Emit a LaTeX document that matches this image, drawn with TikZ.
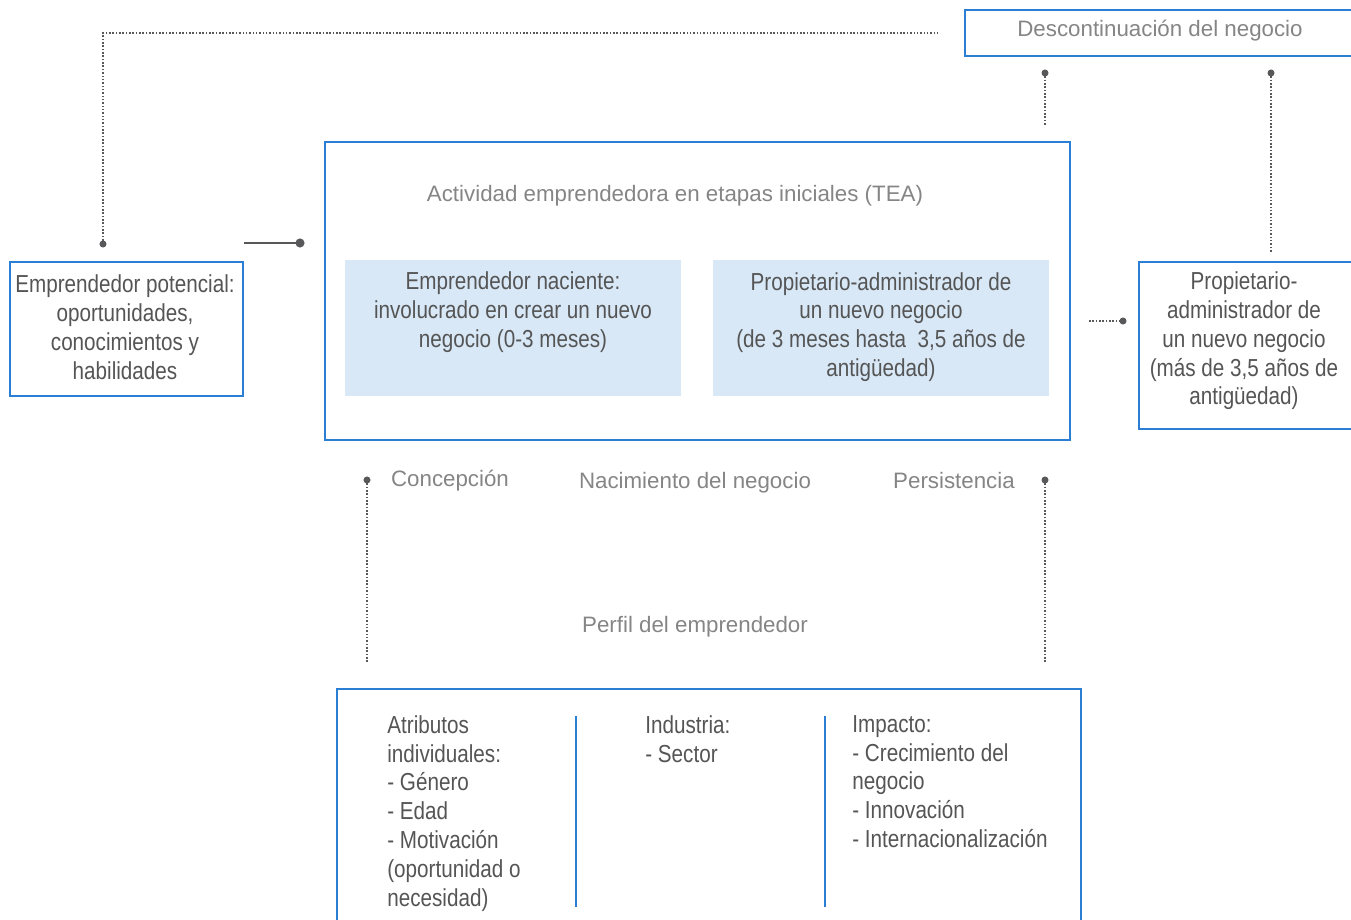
\documentclass[tikz,border=0pt]{standalone}
\usepackage{fontspec}
\setmainfont{Liberation Sans}[FakeStretch=0.84]
\newfontfamily\lightfont{Liberation Sans}
\usetikzlibrary{positioning}

\definecolor{gemblue}{HTML}{2A7FD4}
\definecolor{gemfill}{HTML}{D8E8F7}
\definecolor{gemtext}{HTML}{555555}
\definecolor{gemlight}{HTML}{858585}
\definecolor{gemdot}{HTML}{58585A}

\begin{document}
\begin{tikzpicture}[x=0.02cm, y=-0.02cm,
    box/.style={draw=gemblue, line width=0.9pt},
    txt/.style={text=gemtext, font=\fontsize{14}{16.4}\selectfont, align=center, inner sep=0pt},
    coltxt/.style={txt, align=left, anchor=north west},
    light/.style={text=gemlight, font=\lightfont\fontsize{12.7}{16}\selectfont, inner sep=0pt},
    link/.style={draw=gemdot, line width=0.9pt, densely dotted},
    dot/.style={fill=gemdot}]
    \useasboundingbox (0,0) rectangle (1351,919);

    % boxes
    \draw[box] (965,10) rectangle (1362,56);
    \node[light] (desc) at (1160,31) {Descontinuación del negocio};
    \draw[box] (325,142) rectangle (1070,440);
    \node[light] (tea) at (675,196) {Actividad emprendedora en etapas iniciales (TEA)};
    \fill[gemfill] (345,260) rectangle (681,396);
    \fill[gemfill] (713,260) rectangle (1049,396);
    \node[txt] (naciente) at (513,312) {Emprendedor naciente:\\involucrado en crear un nuevo\\negocio (0-3 meses)};
    \node[txt] (nuevo) at (881,327) {Propietario-administrador de\\un nuevo negocio\\(de 3 meses hasta~ 3,5 años de\\antigüedad)};
    \draw[box] (10,262) rectangle (243,396);
    \node[txt] (potencial) at (125,327) {Emprendedor potencial:\\oportunidades,\\conocimientos y\\habilidades};
    \draw[box] (1139,262) rectangle (1362,429);
    \node[txt] (establecido) at (1244,341) {Propietario-\\administrador de\\un nuevo negocio\\(más de 3,5 años de\\antigüedad)};

    \node[light] (concepcion) at (450,481) {Concepción};
    \node[light] (nacimiento) at (695,483) {Nacimiento del negocio};
    \node[light] (persistencia) at (954,481) {Persistencia};
    \node[light] (perfil) at (695,627) {Perfil del emprendedor};

    \draw[box] (337,689) rectangle (1081,935);
    \draw[box] (576,716) -- (576,907);
    \draw[box] (825,716) -- (825,907);
    \node[coltxt] (atributos) at (387,715) {Atributos\\individuales:\\- Género\\- Edad\\- Motivación\\(oportunidad o\\necesidad)};
    \node[coltxt] (industria) at (645,715) {Industria:\\- Sector};
    \node[coltxt] (impacto) at (852,715) {Impacto:\\- Crecimiento del\\negocio\\- Innovación\\- Internacionalización};

    % connectors
    \coordinate (potdot) at (103,244); \coordinate (potcorner) at (103,33); \coordinate (descend) at (940,33);
    \draw[link] (potdot) -- (potcorner) -- (descend);
    \fill[dot] (potdot) circle (2pt);
    \coordinate (solstart) at (244,243); \coordinate (soldot) at (300,243);
    \draw[gemdot, line width=1.3pt] (solstart) -- (soldot);
    \fill[dot] (soldot) circle (2.6pt);
    \coordinate (rstart) at (1089,321); \coordinate (rdot) at (1123,321);
    \draw[link] (rstart) -- (rdot);
    \fill[dot] (rdot) circle (2pt);
    \coordinate (d1top) at (1045,73); \coordinate (d1bot) at (1045,125);
    \draw[link] (d1top) -- (d1bot);
    \fill[dot] (d1top) circle (2pt);
    \coordinate (d2top) at (1271,73); \coordinate (d2bot) at (1271,252);
    \draw[link] (d2top) -- (d2bot);
    \fill[dot] (d2top) circle (2pt);
    \coordinate (cdot) at (367,480); \coordinate (cbot) at (367,663);
    \draw[link] (cdot) -- (cbot);
    \fill[dot] (cdot) circle (2pt);
    \coordinate (pdot) at (1045,480); \coordinate (pbot) at (1045,663);
    \draw[link] (pdot) -- (pbot);
    \fill[dot] (pdot) circle (2pt);
\end{tikzpicture}
\end{document}
